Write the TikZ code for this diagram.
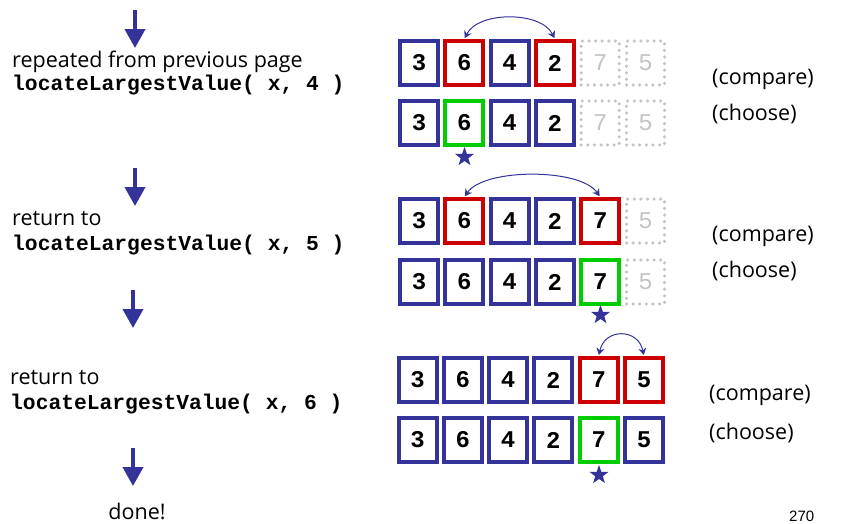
\documentclass[tikz,border=0pt]{standalone}
\usepackage{fontspec}
\setmainfont{Open Sans}
\setmonofont{Liberation Mono}
\newfontfamily\pagefont{Liberation Sans}
\usetikzlibrary{arrows.meta,shapes.geometric,calc}
\definecolor{nblue}{HTML}{333399}
\definecolor{nred}{HTML}{CC0000}
\definecolor{ngreen}{HTML}{00CC00}
\definecolor{ngray}{HTML}{C4C4C4}
\begin{document}
\begin{tikzpicture}[x=1pt,y=-1pt,
  cell/.style={line width=4pt, minimum width=38pt, minimum height=44pt, inner sep=0pt, fill=white,
    font=\fontsize{24}{24}\selectfont\ttfamily\bfseries},
  bluebox/.style={cell, draw=nblue},
  redbox/.style={cell, draw=nred},
  greenbox/.style={cell, draw=ngreen},
  graybox/.style={cell, draw=ngray, line width=3.5pt, line cap=round, dash pattern=on 0pt off 6.6pt,
    text=ngray, font=\fontsize{24}{24}\selectfont\ttfamily},
  downarrow/.style={draw=nblue, line width=4pt, -{Triangle[width=20pt,length=19pt]}},
  swaparrow/.style={draw=nblue, line width=1pt, {Stealth[width=8pt,length=7pt]}-{Stealth[width=8pt,length=7pt]}, shorten <=1pt, shorten >=1pt},
  pick/.style={star, star points=5, star point ratio=2.5, fill=nblue, minimum size=20pt, inner sep=0pt},
  comic/.style={font=\fontsize{21.5}{24}\selectfont, anchor=base west, inner sep=0pt},
  code/.style={font=\fontsize{21.3}{22}\selectfont\ttfamily\bfseries, anchor=base west, inner sep=0pt}
]
\useasboundingbox (0,0) rectangle (845,523);

% ---------- left column ----------
\coordinate (d1s) at (135,10);  \coordinate (d1e) at (135,48);
\draw[downarrow] (d1s) -- (d1e);
\node[comic] (t1) at (12,67) {repeated from previous page};
\node[code]  (c1) at (12,90) {locateLargestValue( x, 4 )};

\coordinate (d2s) at (135,168); \coordinate (d2e) at (135,206);
\draw[downarrow] (d2s) -- (d2e);
\node[comic] (t2) at (12,225) {return to};
\node[code]  (c2) at (12,250) {locateLargestValue( x, 5 )};

\coordinate (d3s) at (133,290); \coordinate (d3e) at (133,328);
\draw[downarrow] (d3s) -- (d3e);
\node[comic] (t3) at (10,384) {return to};
\node[code]  (c3) at (10,409) {locateLargestValue( x, 6 )};

\coordinate (d4s) at (133,448); \coordinate (d4e) at (133,486);
\draw[downarrow] (d4s) -- (d4e);
\node[comic, anchor=base] (done) at (137,519) {done!};

% ---------- section 1 ----------
\foreach \v/\s [count=\i] in {3/bluebox,6/redbox,4/bluebox,2/redbox,7/graybox,5/graybox}
  \node[\s] (a\i) at ({419+45.3*(\i-1)},63) {\v};
\foreach \v/\s [count=\i] in {3/bluebox,6/greenbox,4/bluebox,2/bluebox,7/graybox,5/graybox}
  \node[\s] (b\i) at ({419+45.3*(\i-1)},123) {\v};
\node[pick] (s1) at (464.5,157) {};
\draw[swaparrow] (a2.north) .. controls ($(a2.north)+(14,-28)$) and ($(a4.north)+(-14,-28)$) .. (a4.north);
\node[comic] (cmp1) at (712,84) {(compare)};
\node[comic] (chs1) at (712,120) {(choose)};

% ---------- section 2 ----------
\foreach \v/\s [count=\i] in {3/bluebox,6/redbox,4/bluebox,2/bluebox,7/redbox,5/graybox}
  \node[\s] (e\i) at ({419+45.3*(\i-1)},221) {\v};
\foreach \v/\s [count=\i] in {3/bluebox,6/bluebox,4/bluebox,2/bluebox,7/greenbox,5/graybox}
  \node[\s] (f\i) at ({419+45.3*(\i-1)},282) {\v};
\node[pick] (s2) at (600.5,315) {};
\draw[swaparrow] (e2.north) .. controls ($(e2.north)+(20,-29)$) and ($(e5.north)+(-20,-29)$) .. (e5.north);
\node[comic] (cmp2) at (712,241) {(compare)};
\node[comic] (chs2) at (712,277) {(choose)};

% ---------- section 3 ----------
\foreach \v/\s [count=\i] in {3/bluebox,6/bluebox,4/bluebox,2/bluebox,7/redbox,5/redbox}
  \node[\s] (g\i) at ({417.5+45.3*(\i-1)},380) {\v};
\foreach \v/\s [count=\i] in {3/bluebox,6/bluebox,4/bluebox,2/bluebox,7/greenbox,5/bluebox}
  \node[\s] (h\i) at ({417.5+45.3*(\i-1)},440) {\v};
\node[pick] (s3) at (599,475) {};
\draw[swaparrow] (g5.north) .. controls ($(g5.north)+(6,-28)$) and ($(g6.north)+(-6,-28)$) .. (g6.north);
\node[comic] (cmp3) at (709,400) {(compare)};
\node[comic] (chs3) at (709,439) {(choose)};

\node[font=\pagefont\fontsize{15}{15}\selectfont, anchor=base west, inner sep=0pt] (pg) at (789,521) {270};
\end{tikzpicture}
\end{document}
